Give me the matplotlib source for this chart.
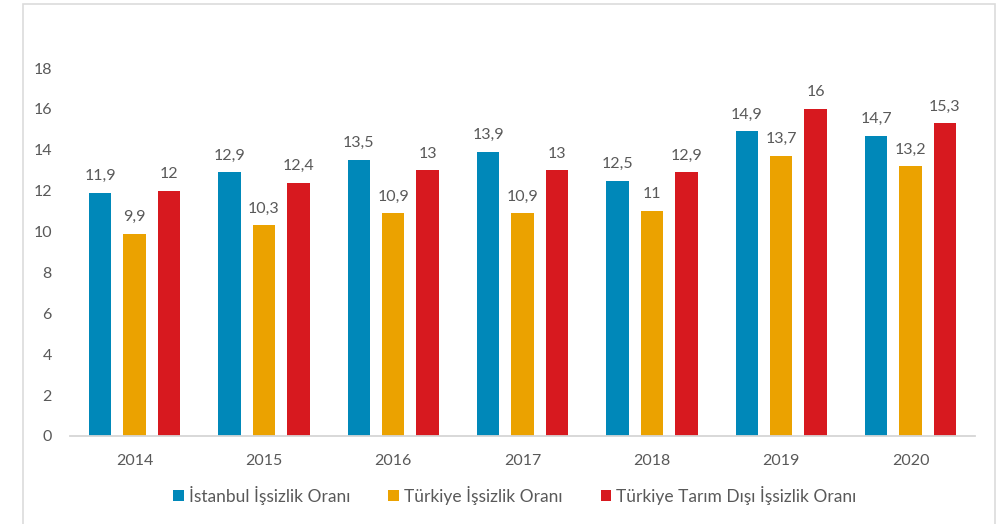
import numpy as np
import matplotlib.pyplot as plt
from matplotlib.patches import Rectangle

plt.rcParams['font.family'] = ['Lato', 'DejaVu Sans']

# Data
years = ['2014', '2015', '2016', '2017', '2018', '2019', '2020']
istanbul = [11.9, 12.9, 13.5, 13.9, 12.5, 14.9, 14.7]
turkiye = [9.9, 10.3, 10.9, 10.9, 11.0, 13.7, 13.2]
tarim_disi = [12.0, 12.4, 13.0, 13.0, 12.9, 16.0, 15.3]
labels = ['İstanbul İşsizlik Oranı', 'Türkiye İşsizlik Oranı',
          'Türkiye Tarım Dışı İşsizlik Oranı']
colors = ['#0088B9', '#EBA200', '#D7191F']
text_color = '#595959'

fig = plt.figure(figsize=(9.98, 5.24), dpi=100)
ax = fig.add_axes([0.0701, 0.168, 0.907, 0.702])

# light frame round the chart
fig.patches.append(Rectangle((0.023, -0.02), 0.974, 1.012, transform=fig.transFigure,
                             fill=False, edgecolor='#dcdcdc', linewidth=1.2))

x = np.arange(len(years))
width = 0.174
step = 0.266
for i, (vals, lab, col) in enumerate(zip([istanbul, turkiye, tarim_disi], labels, colors)):
    bars = ax.bar(x + (i - 1) * step, vals, width, color=col, label=lab)
    for b, v in zip(bars, vals):
        txt = f'{v:g}'.replace('.', ',')
        ax.annotate(txt, (b.get_x() + b.get_width() / 2, v), xytext=(0, 7),
                    textcoords='offset points', ha='center', va='bottom',
                    fontsize=11.5, color=text_color, annotation_clip=False)

ax.set_xlim(-0.5, len(years) - 0.5)
ax.set_ylim(0, 18)
ax.set_yticks(range(0, 19, 2))
ax.set_xticks(x)
ax.set_xticklabels(years)
ax.tick_params(axis='both', length=0, labelsize=11.5, labelcolor=text_color)
ax.tick_params(axis='y', pad=13)
ax.tick_params(axis='x', pad=13)
for s in ['top', 'right', 'left']:
    ax.spines[s].set_visible(False)
ax.spines['bottom'].set_color('#d6d6d6')
ax.spines['bottom'].set_linewidth(1.3)

leg = fig.legend(loc='center', bbox_to_anchor=(0.516, 0.055), ncol=3, frameon=False,
                 fontsize=12.5, handlelength=0.6, handleheight=0.6,
                 handletextpad=0.3, columnspacing=2.2)
for t in leg.get_texts():
    t.set_color(text_color)

fig.savefig('out.png', dpi=100)
